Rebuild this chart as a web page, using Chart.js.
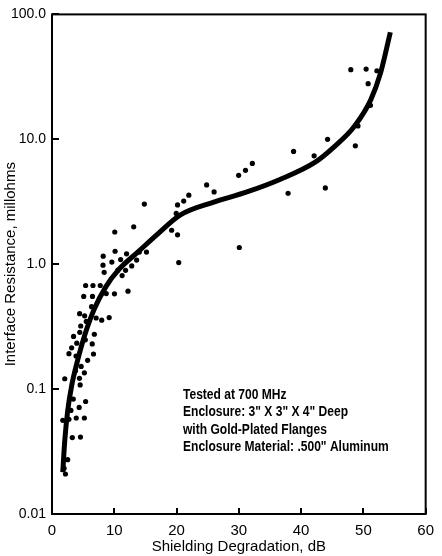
<!DOCTYPE html>
<html>
<head>
<meta charset="utf-8">
<script src="https://cdn.jsdelivr.net/npm/chart.js@4.4.0/dist/chart.umd.min.js"></script>
<style>
  html, body { margin: 0; padding: 0; background: #fff; }
  #wrap { width: 442px; height: 556px; }
</style>
</head>
<body>
<div id="wrap"><canvas id="chart" width="442" height="556"></canvas></div>
<script>
const FONT = "'Liberation Sans Narrow','Arial Narrow','Liberation Sans',Arial,sans-serif";

const xTicks = [0, 10, 20, 30, 40, 50, 60];
const yTicks = [0.01, 0.1, 1, 10, 100];
const yTickLabels = ['0.01', '0.1', '1.0', '10.0', '100.0'];

// measured points (dB, milliohms)
const dotsX = [2.16, 1.94, 2.52, 3.26, 4.57, 1.73, 2.72, 3.89, 5.20, 3.04,
  4.36, 3.42, 5.40, 4.52, 2.05, 4.41, 5.20, 3.78, 4.68, 5.72,
  6.66, 2.72, 3.86, 3.15, 3.98, 6.46, 3.46, 5.35, 4.46, 6.80,
  4.61, 5.51, 4.44, 5.24, 7.09, 7.98, 9.18, 6.35, 5.09, 6.50,
  8.71, 10.03, 12.20, 5.40, 6.58, 7.75, 11.26, 8.38, 10.58, 11.81,
  8.19, 9.61, 11.02, 12.80, 13.59, 8.22, 10.13, 11.97, 14.02, 15.17,
  10.08, 13.12, 14.83, 19.21, 20.16, 20.35, 19.95, 20.16, 21.15, 21.97,
  24.83, 26.03, 30.08, 29.97, 31.07, 32.17, 38.79, 37.91, 42.09, 44.25,
  43.89, 48.71, 49.13, 51.13, 50.76, 47.98, 50.44, 52.17];
const dotsY = [0.0209, 0.0232, 0.0272, 0.0409, 0.0413, 0.0562, 0.0573, 0.0587, 0.0587, 0.0675,
  0.0713, 0.0832, 0.0796, 0.108, 0.121, 0.122, 0.135, 0.140, 0.152, 0.170,
  0.191, 0.192, 0.184, 0.214, 0.233, 0.230, 0.264, 0.248, 0.285, 0.275,
  0.320, 0.348, 0.402, 0.386, 0.371, 0.356, 0.374, 0.457, 0.552, 0.552,
  0.582, 0.579, 0.608, 0.675, 0.675, 0.675, 0.811, 0.861, 0.896, 0.894,
  0.982, 1.04, 1.09, 0.969, 1.08, 1.16, 1.27, 1.21, 1.25, 1.25,
  1.81, 1.99, 3.03, 1.87, 1.72, 1.03, 2.55, 2.98, 3.20, 3.57,
  4.31, 3.79, 1.36, 5.15, 5.64, 6.41, 7.99, 3.70, 7.38, 10.0,
  4.08, 8.87, 12.8, 18.7, 27.9, 36.1, 36.5, 35.4];

// fitted curve
const fitX = [1.73, 2.05, 2.52, 3.15, 4.09, 5.20, 6.77, 8.66, 10.71, 13.86,
  17.0, 20.63, 25.98, 31.18, 36.69, 42.2, 45.35, 48.5, 51.18, 52.76, 54.33];
const fitY = [0.0216, 0.0387, 0.0671, 0.106, 0.168, 0.265, 0.435, 0.662, 0.904, 1.26,
  1.75, 2.48, 3.14, 3.77, 4.79, 6.53, 8.75, 12.6, 20.7, 34.0, 72.0];

const noteLines = [
  'Tested at 700 MHz',
  'Enclosure: 3" X 3" X 4" Deep',
  'with Gold-Plated Flanges',
  'Enclosure Material: .500" Aluminum',
];

const framePlugin = {
  id: 'frame',
  afterDraw(chart) {
    const { ctx, chartArea: a, scales } = chart;
    ctx.save();
    ctx.strokeStyle = '#000';
    ctx.lineWidth = 2;
    ctx.strokeRect(a.left, a.top, a.right - a.left, a.bottom - a.top);
    ctx.beginPath();
    xTicks.forEach((v) => {
      const px = Math.round(scales.x.getPixelForValue(v));
      ctx.moveTo(px, a.bottom);
      ctx.lineTo(px, a.bottom - 6);
    });
    yTicks.forEach((v) => {
      const py = Math.round(scales.y.getPixelForValue(v));
      ctx.moveTo(a.left, py);
      ctx.lineTo(a.left + 7, py);
    });
    ctx.stroke();

    // note block, condensed like the original typeface
    ctx.fillStyle = '#000';
    ctx.font = "bold 14px " + FONT;
    ctx.textBaseline = 'middle';
    ctx.textAlign = 'left';
    ctx.translate(a.left + 131, 395);
    ctx.scale(0.86, 1);
    noteLines.forEach((t, i) => {
      ctx.fillText(t, 0, i * 17.5);
    });
    ctx.restore();
  },
};

new Chart(document.getElementById('chart').getContext('2d'), {
  type: 'scatter',
  data: {
    datasets: [
      {
        label: 'measured',
        data: dotsX.map((x, i) => ({ x, y: dotsY[i] })),
        backgroundColor: '#000',
        borderWidth: 0,
        pointRadius: 2.6,
        order: 2,
      },
      {
        label: 'fit',
        data: fitX.map((x, i) => ({ x, y: fitY[i] })),
        showLine: true,
        borderColor: '#000',
        borderWidth: 5,
        pointRadius: 0,
        cubicInterpolationMode: 'monotone',
        order: 1,
      },
    ],
  },
  options: {
    responsive: false,
    animation: false,
    events: [],
    layout: { padding: { top: 11, right: 9, left: 0, bottom: 0 } },
    plugins: { legend: { display: false }, tooltip: { enabled: false } },
    scales: {
      x: {
        type: 'linear',
        min: 0,
        max: 60,
        afterBuildTicks: (s) => { s.ticks = xTicks.map((v) => ({ value: v })); },
        afterFit: (s) => { s.height = 42; },
        grid: { display: false, drawTicks: false },
        border: { display: false },
        ticks: { color: '#000', font: { family: FONT, size: 15 }, padding: 8, maxRotation: 0 },
        title: {
          display: true,
          text: 'Shielding Degradation, dB',
          color: '#000',
          font: { family: FONT, size: 15 },
          padding: { top: 0, bottom: 0 },
        },
      },
      y: {
        type: 'logarithmic',
        min: 0.01,
        max: 100,
        afterBuildTicks: (s) => { s.ticks = yTicks.map((v) => ({ value: v })); },
        afterFit: (s) => { s.width = 52; },
        grid: { display: false, drawTicks: false },
        border: { display: false },
        ticks: {
          color: '#000',
          font: { family: FONT, size: 14 },
          padding: 6,
          callback: (v) => yTickLabels[yTicks.indexOf(v)] ?? '',
        },
        title: {
          display: true,
          text: 'Interface Resistance, millohms',
          color: '#000',
          font: { family: FONT, size: 15 },
          padding: { top: 2, bottom: 0 },
        },
      },
    },
  },
  plugins: [framePlugin],
});
</script>
</body>
</html>
